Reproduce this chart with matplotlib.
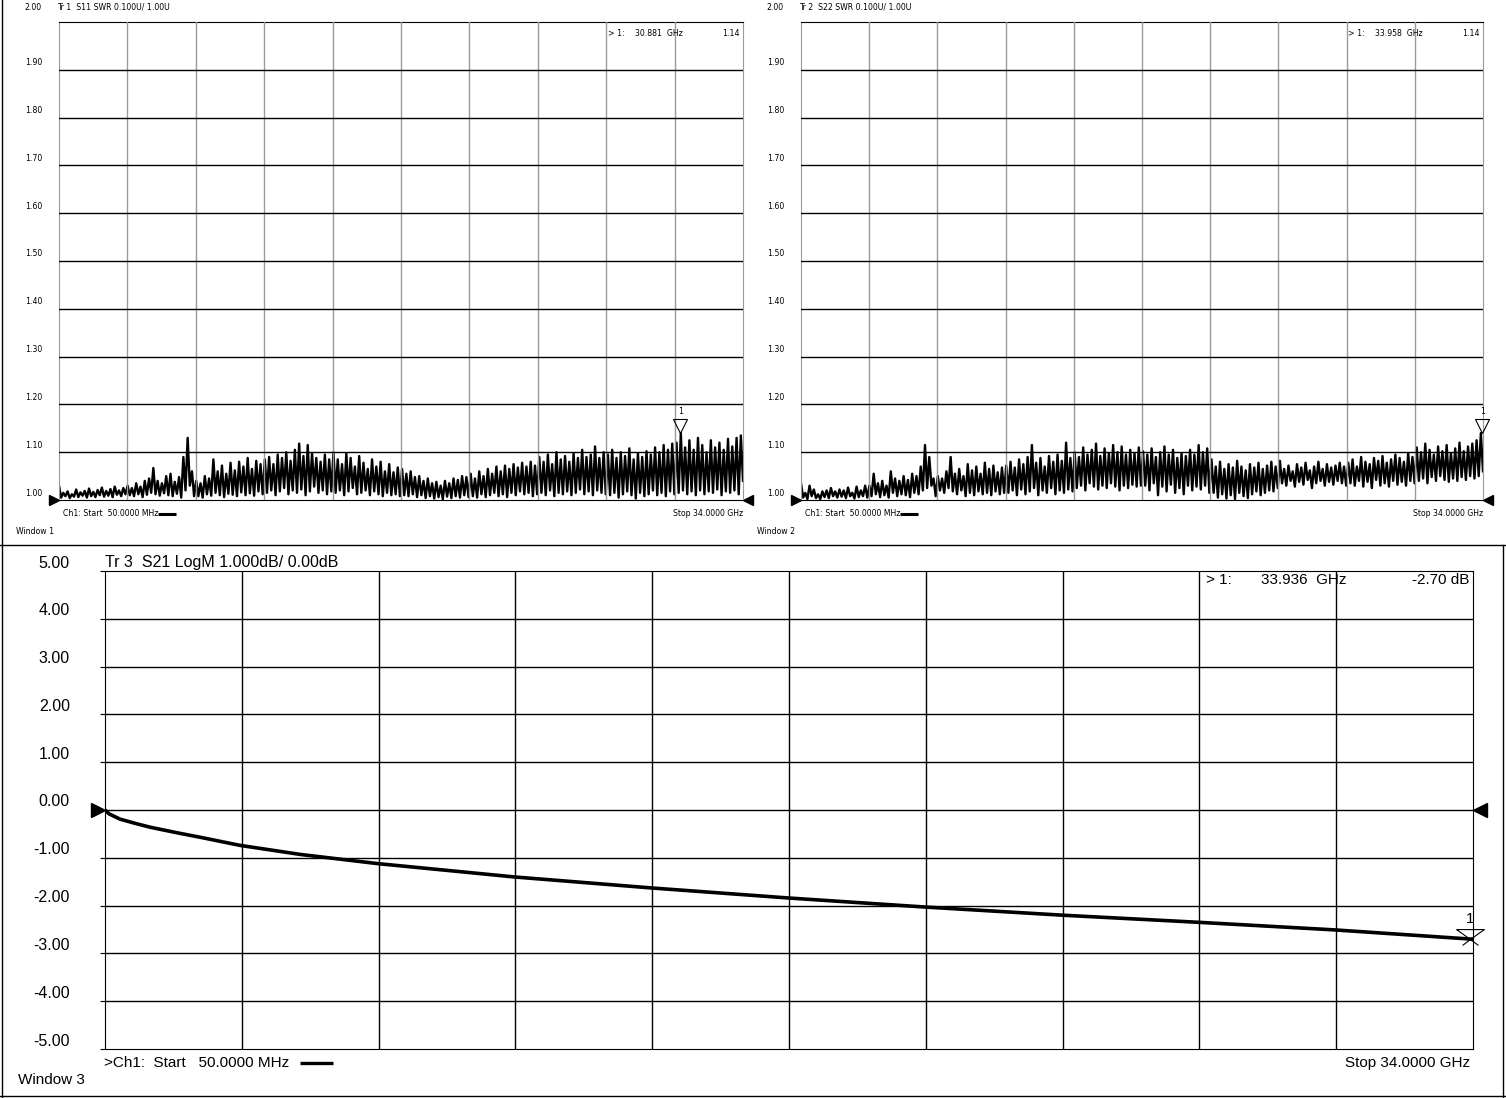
import numpy as np
import matplotlib.pyplot as plt
from matplotlib import font_manager
from matplotlib.path import Path
from matplotlib.transforms import offset_copy, blended_transform_factory

f_start, f_stop = 0.05, 34.0   # GHz, linear sweep

# S11 SWR trace (Window 1), peak/valley pairs, one row per grid division
s11_swr = [
    1.030, 1.005, 1.015, 1.008, 1.018, 1.004, 1.012, 1.007, 1.022, 1.006, 1.016, 1.009, 1.019, 1.005, 1.024, 1.008,
    1.017, 1.006, 1.021, 1.010, 1.026, 1.007, 1.019, 1.009, 1.023, 1.006, 1.028, 1.011, 1.020, 1.008, 1.025, 1.012,
    1.030, 1.010, 1.025, 1.008, 1.035, 1.012, 1.028, 1.006, 1.040, 1.011, 1.045, 1.015, 1.067, 1.012, 1.040, 1.009,
    1.035, 1.014, 1.050, 1.010, 1.055, 1.008, 1.038, 1.013, 1.048, 1.005, 1.090, 1.020, 1.130, 1.030, 1.060, 1.008,
    1.040, 1.008, 1.035, 1.005, 1.050, 1.012, 1.045, 1.009, 1.085, 1.015, 1.060, 1.010, 1.072, 1.006, 1.055, 1.013,
    1.078, 1.011, 1.062, 1.008, 1.080, 1.016, 1.070, 1.010, 1.088, 1.014, 1.065, 1.009, 1.082, 1.018, 1.075, 1.012,
    1.085, 1.015, 1.090, 1.020, 1.075, 1.010, 1.095, 1.018, 1.088, 1.025, 1.100, 1.012, 1.082, 1.020, 1.105, 1.015,
    1.118, 1.022, 1.092, 1.010, 1.115, 1.018, 1.098, 1.028, 1.088, 1.015, 1.080, 1.020, 1.095, 1.012, 1.085, 1.018,
    1.100, 1.015, 1.085, 1.020, 1.075, 1.010, 1.098, 1.018, 1.088, 1.025, 1.070, 1.012, 1.092, 1.015, 1.078, 1.020,
    1.065, 1.010, 1.085, 1.018, 1.070, 1.012, 1.080, 1.008, 1.060, 1.015, 1.075, 1.010, 1.058, 1.012, 1.068, 1.008,
    1.065, 1.010, 1.055, 1.008, 1.060, 1.012, 1.048, 1.006, 1.050, 1.010, 1.040, 1.004, 1.045, 1.008, 1.035, 1.003,
    1.038, 1.006, 1.030, 1.002, 1.040, 1.007, 1.035, 1.004, 1.045, 1.008, 1.042, 1.005, 1.050, 1.010, 1.048, 1.006,
    1.055, 1.008, 1.045, 1.005, 1.060, 1.012, 1.050, 1.006, 1.065, 1.010, 1.055, 1.015, 1.070, 1.008, 1.060, 1.012,
    1.072, 1.006, 1.065, 1.015, 1.075, 1.010, 1.068, 1.018, 1.078, 1.012, 1.070, 1.015, 1.080, 1.008, 1.072, 1.012,
    1.090, 1.015, 1.080, 1.010, 1.095, 1.020, 1.075, 1.008, 1.100, 1.015, 1.085, 1.012, 1.092, 1.018, 1.080, 1.010,
    1.098, 1.015, 1.088, 1.022, 1.105, 1.012, 1.090, 1.018, 1.095, 1.010, 1.112, 1.020, 1.088, 1.015, 1.100, 1.012,
    1.095, 1.010, 1.105, 1.015, 1.088, 1.005, 1.100, 1.012, 1.092, 1.018, 1.108, 1.010, 1.085, 1.003, 1.098, 1.015,
    1.090, 1.008, 1.102, 1.012, 1.095, 1.020, 1.110, 1.010, 1.100, 1.015, 1.115, 1.008, 1.105, 1.018, 1.118, 1.012,
    1.120, 1.015, 1.140, 1.020, 1.110, 1.012, 1.125, 1.018, 1.105, 1.010, 1.130, 1.020, 1.115, 1.012, 1.100, 1.018,
    1.125, 1.015, 1.110, 1.022, 1.120, 1.010, 1.105, 1.018, 1.128, 1.015, 1.112, 1.020, 1.130, 1.012, 1.135, 1.040,
]

# S22 SWR trace (Window 2)
s22_swr = [
    1.035, 1.005, 1.015, 1.002, 1.030, 1.008, 1.022, 1.004, 1.012, 1.002, 1.018, 1.006, 1.020, 1.004, 1.025, 1.008,
    1.018, 1.005, 1.022, 1.007, 1.020, 1.004, 1.026, 1.008, 1.015, 1.003, 1.028, 1.006, 1.020, 1.008, 1.030, 1.005,
    1.030, 1.008, 1.055, 1.012, 1.035, 1.006, 1.040, 1.010, 1.030, 1.005, 1.060, 1.015, 1.045, 1.008, 1.040, 1.012,
    1.050, 1.010, 1.042, 1.006, 1.055, 1.015, 1.050, 1.012, 1.070, 1.020, 1.115, 1.025, 1.090, 1.030, 1.045, 1.008,
    1.050, 1.020, 1.045, 1.015, 1.060, 1.025, 1.090, 1.018, 1.055, 1.012, 1.065, 1.020, 1.050, 1.008, 1.075, 1.015,
    1.062, 1.010, 1.070, 1.018, 1.055, 1.012, 1.078, 1.015, 1.065, 1.010, 1.072, 1.018, 1.058, 1.012, 1.068, 1.015,
    1.072, 1.015, 1.080, 1.020, 1.068, 1.010, 1.085, 1.022, 1.075, 1.012, 1.090, 1.018, 1.115, 1.025, 1.078, 1.010,
    1.088, 1.020, 1.070, 1.015, 1.092, 1.025, 1.080, 1.012, 1.095, 1.020, 1.082, 1.015, 1.120, 1.022, 1.088, 1.018,
    1.100, 1.025, 1.090, 1.030, 1.110, 1.020, 1.095, 1.035, 1.105, 1.028, 1.118, 1.022, 1.092, 1.030, 1.108, 1.025,
    1.098, 1.035, 1.115, 1.028, 1.100, 1.020, 1.112, 1.030, 1.095, 1.025, 1.105, 1.032, 1.098, 1.028, 1.110, 1.030,
    1.102, 1.030, 1.095, 1.020, 1.108, 1.035, 1.090, 1.010, 1.100, 1.028, 1.112, 1.018, 1.095, 1.032, 1.105, 1.015,
    1.088, 1.025, 1.098, 1.012, 1.092, 1.030, 1.105, 1.020, 1.095, 1.028, 1.115, 1.022, 1.100, 1.030, 1.108, 1.015,
    1.085, 1.015, 1.070, 1.005, 1.080, 1.012, 1.065, 1.003, 1.075, 1.010, 1.068, 1.002, 1.082, 1.015, 1.070, 1.008,
    1.062, 1.004, 1.075, 1.012, 1.068, 1.018, 1.078, 1.010, 1.065, 1.015, 1.072, 1.020, 1.080, 1.018, 1.070, 1.025,
    1.082, 1.035, 1.065, 1.030, 1.072, 1.040, 1.060, 1.028, 1.075, 1.038, 1.068, 1.032, 1.078, 1.042, 1.062, 1.025,
    1.070, 1.035, 1.080, 1.040, 1.065, 1.030, 1.075, 1.038, 1.068, 1.032, 1.072, 1.040, 1.078, 1.035, 1.070, 1.030,
    1.078, 1.035, 1.085, 1.030, 1.070, 1.040, 1.090, 1.028, 1.080, 1.038, 1.075, 1.025, 1.088, 1.042, 1.082, 1.030,
    1.092, 1.035, 1.078, 1.028, 1.085, 1.040, 1.095, 1.032, 1.088, 1.038, 1.080, 1.030, 1.098, 1.040, 1.090, 1.035,
    1.110, 1.040, 1.100, 1.045, 1.118, 1.035, 1.105, 1.048, 1.095, 1.040, 1.112, 1.050, 1.102, 1.042, 1.115, 1.038,
    1.098, 1.045, 1.108, 1.040, 1.120, 1.048, 1.102, 1.042, 1.112, 1.050, 1.118, 1.045, 1.125, 1.050, 1.140, 1.060,
]

# S21 LogM trace (Window 3)
s21_freq = [0.05, 0.15, 0.42, 0.8, 1.17, 1.8, 2.41, 3.4, 4.9, 6.8, 10.2, 13.6, 17.0, 20.4, 23.8, 27.2, 30.6, 33.936, 34.0]
s21_db = [0.0, -0.08, -0.19, -0.28, -0.36, -0.47, -0.57, -0.74, -0.93, -1.12, -1.40, -1.63, -1.84, -2.03, -2.20, -2.35, -2.51, -2.70, -2.70]

swr_ticks = [1.00, 1.10, 1.20, 1.30, 1.40, 1.50, 1.60, 1.70, 1.80, 1.90, 2.00]
db_ticks = [-5.0, -4.0, -3.0, -2.0, -1.0, 0.0, 1.0, 2.0, 3.0, 4.0, 5.0]

mk1 = (30.881, 1.14)
mk2 = (33.958, 1.14)
mk3 = (33.936, -2.70)

# ---- figure ----
W, H = 1506, 1098
fig = plt.figure(figsize=(W / 100, H / 100), dpi=100)
fig.patch.set_facecolor("white")

names = {f.name for f in font_manager.fontManager.ttflist}
if "Liberation Sans Narrow" in names:
    NARROW = dict(family="Liberation Sans Narrow", fontsize=6.9)
else:
    NARROW = dict(family="DejaVu Sans", stretch="condensed", fontsize=6.2)
WIDE = dict(family=["Liberation Sans", "DejaVu Sans"], fontsize=11)
WIDE_L = dict(family=["Liberation Sans", "DejaVu Sans"], fontsize=11.5)


def px_axes(x0, y0, x1, y1):
    return fig.add_axes([x0 / W, 1 - y1 / H, (x1 - x0) / W, (y1 - y0) / H])


# overlay in pixel coordinates for frame lines and static annotations
bg = fig.add_axes([0, 0, 1, 1], zorder=10)
bg.set_xlim(0, W)
bg.set_ylim(H, 0)
bg.axis("off")
bg.patch.set_alpha(0)
for xs, ys in [([2, 2], [0, H]), ([0, W], [545, 545]), ([0, W], [1096, 1096]), ([1503, 1503], [545, H])]:
    bg.plot(xs, ys, color="black", lw=1)

xgrid = np.linspace(f_start, f_stop, 11)


def ylabels(ax, ticks, dx, dy, top_dy, kw):
    tr = blended_transform_factory(ax.transAxes, ax.transData)
    for v in ticks:
        off = top_dy if v == ticks[-1] else dy
        t = offset_copy(tr, fig=fig, x=-dx, y=off, units="dots")
        ax.text(0, v, f"{v:.2f}", transform=t, ha="right", va="center", clip_on=False, **kw)


def ref_arrows(ax, y, ms, off):
    tl = offset_copy(ax.transData, fig=fig, x=-off, y=0, units="dots")
    tr = offset_copy(ax.transData, fig=fig, x=off, y=0, units="dots")
    ax.plot([f_start], [y], marker=">", ms=ms, color="black", transform=tl, clip_on=False)
    ax.plot([f_stop], [y], marker="<", ms=ms, color="black", transform=tr, clip_on=False)


def swr_panel(rect, trace, title, mk, win, win_x):
    x0, y0, x1, y1 = rect
    ax = px_axes(*rect)
    f = np.linspace(f_start, f_stop, len(trace))
    ax.plot(f, trace, color="black", lw=1.7, zorder=2)
    ax.set_xlim(f_start, f_stop)
    ax.set_ylim(1.0, 2.0)
    ax.set_xticks([])
    ax.set_yticks([])
    for x in xgrid[1:-1]:
        ax.axvline(x, color="#9a9a9a", lw=1, zorder=3)
    for y in swr_ticks[1:-1]:
        ax.axhline(y, color="black", lw=1, zorder=3)
    for s in ("left", "right"):
        ax.spines[s].set_color("#9a9a9a")
    for s in ("top", "bottom"):
        ax.spines[s].set_color("black")
    ylabels(ax, swr_ticks, 17, 7, 15, NARROW)
    ref_arrows(ax, 1.0, 7, 5)
    # marker 1
    tm = offset_copy(ax.transData, fig=fig, x=0, y=7, units="dots")
    ax.plot([mk[0]], [mk[1]], marker="v", ms=10, mfc="none", mec="black", mew=0.8,
            transform=tm, clip_on=False, zorder=5)
    tn = offset_copy(ax.transData, fig=fig, x=0, y=22, units="dots")
    ax.text(mk[0], mk[1], "1", transform=tn, ha="center", va="center", **NARROW)
    # texts
    bg.text(x0 - 2, 7, title, ha="left", va="center", **NARROW)
    bg.text(x1 - 135, 33, "> 1:", ha="left", va="center", **NARROW)
    bg.text(x1 - 108, 33, f"{mk[0]:.3f}  GHz", ha="left", va="center", **NARROW)
    bg.text(x1 - 3, 33, f"{mk[1]:.2f}", ha="right", va="center", **NARROW)
    bg.text(x0 + 4, 514, "Ch1: Start  50.0000 MHz", ha="left", va="center", **NARROW)
    bg.plot([x0 + 99, x0 + 117], [514, 514], color="black", lw=2.2, solid_capstyle="butt")
    bg.text(x1, 514, "Stop 34.0000 GHz", ha="right", va="center", **NARROW)
    bg.text(win_x, 532, win, ha="left", va="center", **NARROW)
    return ax


swr_panel((59, 22, 743, 500), s11_swr, "Tr 1  S11 SWR 0.100U/ 1.00U", mk1, "Window 1", 16)
swr_panel((801, 22, 1483, 500), s22_swr, "Tr 2  S22 SWR 0.100U/ 1.00U", mk2, "Window 2", 757)

# ---- S21 panel ----
x0, y0, x1, y1 = 105, 571, 1473, 1049
ax3 = px_axes(x0, y0, x1, y1)
ax3.plot(s21_freq, s21_db, color="black", lw=2.6, solid_capstyle="round", solid_joinstyle="round", zorder=4)
ax3.set_xlim(f_start, f_stop)
ax3.set_ylim(-5, 5)
ax3.set_xticks([])
ax3.set_yticks(db_ticks)
ax3.tick_params(axis="y", direction="out", length=3.6, width=0.8, labelleft=False)
for x in xgrid[1:-1]:
    ax3.axvline(x, color="black", lw=1, zorder=3)
for y in db_ticks[1:-1]:
    ax3.axhline(y, color="black", lw=1, zorder=3)
ylabels(ax3, db_ticks, 35, 8, 8, WIDE_L)
ref_arrows(ax3, 0.0, 9.5, 7)

mk_path = Path([(-14, 10), (14, 10), (0, 0), (-14, 10), (0, 0), (-8, -6), (0, 0), (8, -6)],
               [Path.MOVETO, Path.LINETO, Path.LINETO, Path.LINETO,
                Path.MOVETO, Path.LINETO, Path.MOVETO, Path.LINETO])
ax3.plot([mk3[0]], [mk3[1]], marker=mk_path, ms=20, mfc="none", mec="black", mew=0.8,
         clip_on=False, zorder=6)
t1 = offset_copy(ax3.transData, fig=fig, x=0, y=20, units="dots")
ax3.text(mk3[0], mk3[1], "1", transform=t1, ha="center", va="center", **WIDE)

bg.text(105, 563, "Tr 3  S21 LogM 1.000dB/ 0.00dB", ha="left", va="center", **WIDE_L)
bg.text(1206, 580, "> 1:", ha="left", va="center", **WIDE)
bg.text(1261, 580, f"{mk3[0]:.3f}  GHz", ha="left", va="center", **WIDE)
bg.text(1469, 580, f"{mk3[1]:.2f} dB", ha="right", va="center", **WIDE)
bg.text(104, 1063, ">Ch1:  Start   50.0000 MHz", ha="left", va="center", **WIDE)
bg.plot([300, 333], [1063, 1063], color="black", lw=2.4, solid_capstyle="butt")
bg.text(1470, 1063, "Stop 34.0000 GHz", ha="right", va="center", **WIDE)
bg.text(18, 1080, "Window 3", ha="left", va="center", **WIDE)

fig.savefig("out.png", dpi=100, facecolor="white")
